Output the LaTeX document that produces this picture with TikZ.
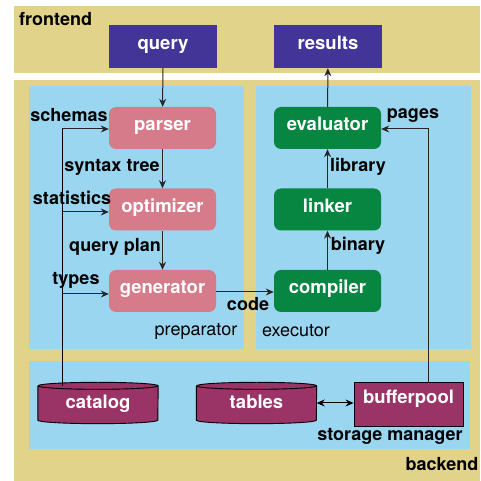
\documentclass[tikz,border=0pt]{standalone}
\usepackage{fontspec}
\setmainfont{TeX Gyre Heros}
\usetikzlibrary{arrows.meta,calc}

\definecolor{layerTan}{HTML}{E2D38A}
\definecolor{areaBlue}{HTML}{9BD6F0}
\definecolor{ioBlue}{HTML}{433598}
\definecolor{prepPink}{HTML}{D67B8A}
\definecolor{execGreen}{HTML}{078641}
\definecolor{dbPurple}{HTML}{9A3366}

\pgfdeclarelayer{back}
\pgfdeclarelayer{mid}
\pgfsetlayers{back,mid,main}

\begin{document}
\begin{tikzpicture}[x=1pt,y=1pt,
  font=\fontsize{18}{21}\selectfont\bfseries,
  boxfont/.style={font=\fontsize{18.5}{22}\selectfont\bfseries, text height=10pt, text depth=4pt},
  iobox/.style={boxfont, fill=ioBlue, text=white, minimum width=108pt, minimum height=43pt, inner sep=0pt},
  prepbox/.style={boxfont, fill=prepPink, text=white, rounded corners=7pt, minimum width=107pt, minimum height=42pt, inner sep=0pt},
  execbox/.style={boxfont, fill=execGreen, text=white, rounded corners=7pt, minimum width=107pt, minimum height=42pt, inner sep=0pt},
  dbtext/.style={boxfont, text height=12pt, text depth=0pt, text=white, minimum width=120pt, minimum height=34pt, inner sep=0pt},
  poolbox/.style={boxfont, text height=4pt, text depth=5pt, fill=dbPurple, draw=black, line width=0.9pt, text=white, minimum width=109pt, minimum height=44pt, inner sep=0pt},
  lbl/.style={text=black, inner sep=0pt},
  arealbl/.style={text=black, inner sep=0pt, font=\fontsize{18}{21}\selectfont\mdseries},
  flow/.style={-{Stealth[length=8pt,width=7pt]}, line width=1pt, draw=black!85},
  both/.style={{Stealth[length=8pt,width=7pt]}-{Stealth[length=8pt,width=7pt]}, line width=1pt, draw=black},
  plain/.style={line width=1pt, draw=black}
]
\useasboundingbox (0,0) rectangle (480,481);

% layers and areas
\begin{pgfonlayer}{back}
  \fill[white] (0,0) rectangle (480,481);
  \fill[layerTan] (14,408) rectangle (480,475);
  \fill[layerTan] (14,0) rectangle (480,401);
  \fill[areaBlue] (29,132) rectangle (244,395);
  \fill[areaBlue] (256,132) rectangle (471,395);
  \fill[areaBlue] (29,32) rectangle (470,120);
\end{pgfonlayer}

% frontend
\node[iobox] (query) at (163,434.5) {query};
\node[iobox] (results) at (328,434.5) {results};

% preparator
\node[prepbox] (parser) at (162.5,353) {parser};
\node[prepbox] (optimizer) at (162.5,271.5) {optimizer};
\node[prepbox] (generator) at (162.5,190) {generator};

% executor
\node[execbox] (evaluator) at (327.5,353) {evaluator};
\node[execbox] (linker) at (327.5,271.5) {linker};
\node[execbox] (compiler) at (327.5,190) {compiler};

% storage manager
\node[dbtext] (catalog) at (98,78) {catalog};
\node[dbtext] (tables) at (256.5,78) {tables};
\node[poolbox] (bufferpool) at (408.5,77) {bufferpool};

\begin{pgfonlayer}{mid}
  \foreach \db in {catalog,tables}{
    \path[fill=dbPurple] (\db.north west) -- (\db.south west)
      arc[start angle=180,end angle=360,x radius=60pt,y radius=3.5pt]
      -- (\db.north east)
      arc[start angle=0,end angle=180,x radius=60pt,y radius=3.5pt] -- cycle;
    \draw[line width=0.9pt] (\db.north west) -- (\db.south west)
      arc[start angle=180,end angle=360,x radius=60pt,y radius=3.5pt]
      -- (\db.north east)
      arc[start angle=0,end angle=180,x radius=60pt,y radius=3.5pt];
    \draw[line width=0.9pt] (\db.north west)
      arc[start angle=180,end angle=360,x radius=60pt,y radius=3.5pt];
  }
\end{pgfonlayer}

% area titles
\node[lbl, anchor=west] (frontendlbl) at (19,462) {frontend};
\node[lbl] (backendlbl) at (442,17) {backend};
\node[arealbl] (preplbl) at (196,150) {preparator};
\node[arealbl] (execlbl) at (296,150) {executor};
\node[lbl] (storagelbl) at (390,45) {storage manager};

% pipeline flows
\draw[flow] (query) -- (parser);
\draw[flow] (parser) -- (optimizer);
\draw[flow] (optimizer) -- (generator);
\draw[flow] (generator.east |- 0,189) -- (compiler.west |- 0,189);
\draw[flow] (compiler) -- (linker);
\draw[flow] (linker) -- (evaluator);
\draw[flow] (evaluator) -- (results);

\node[lbl] (syntaxlbl) at (112,314) {syntax tree};
\node[lbl] (planlbl) at (115,234) {query plan};
\node[lbl] (codelbl) at (248,177) {code};
\node[lbl] (binarylbl) at (358,235) {binary};
\node[lbl] (librarylbl) at (358,314) {library};

% catalog feeds
\coordinate (catup) at (62,352);
\draw[plain] (catalog.north -| catup) -- (catup);
\draw[flow] (catup) -- (parser.west |- catup);
\draw[flow] (catup |- 0,269) -- (optimizer.west |- 0,269);
\draw[flow] (catup |- 0,187) -- (generator.west |- 0,187);
\node[lbl] (schemaslbl) at (69,366) {schemas};
\node[lbl] (statslbl) at (72,283) {statistics};
\node[lbl] (typeslbl) at (76,201) {types};

% bufferpool pages
\coordinate (bpup) at (428,352);
\draw[flow] (bufferpool.north -| bpup) -- (bpup) -- (evaluator.east |- bpup);
\node[lbl] (pageslbl) at (413,365) {pages};

\draw[both] (tables.east) -- (tables.east -| bufferpool.west);
\end{tikzpicture}
\end{document}
